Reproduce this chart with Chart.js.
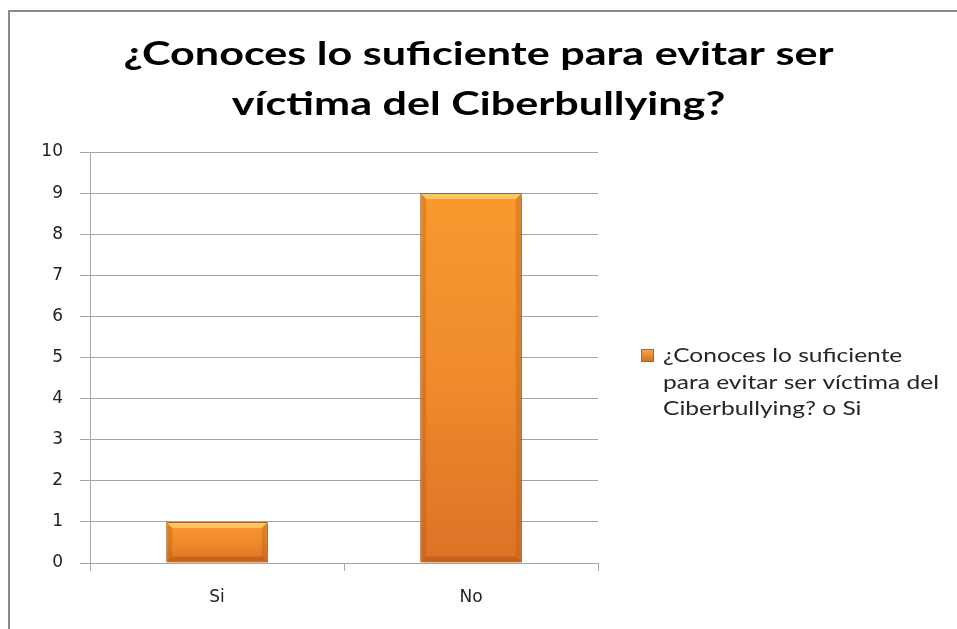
<!DOCTYPE html>
<html lang="es">
<head>
  <meta charset="UTF-8">
  <title>¿Conoces lo suficiente para evitar ser víctima del Ciberbullying?</title>
  <script src="https://cdn.jsdelivr.net/npm/chart.js"></script>
  <style>
    body { margin: 0; background: #fff; }
    #marco {
      position: absolute; left: 8px; top: 10px; width: 960px; height: 630px;
      border-left: 2px solid #8a8a8a; border-top: 2px solid #8a8a8a;
    }
    #grafico { position: absolute; left: 0; top: 0; }
  </style>
</head>
<body>
  <div id="marco"></div>
  <canvas id="grafico" width="957" height="629"></canvas>

  <script>
    // datos
    const categorias = ['Si', 'No'];
    const valores = [1, 9];
    const nombreSerie = '¿Conoces lo suficiente para evitar ser víctima del Ciberbullying? o Si';
    const lineasLeyenda = ['¿Conoces lo suficiente', 'para evitar ser víctima del', 'Ciberbullying? o Si'];
    const lineasTitulo = ['¿Conoces lo suficiente para evitar ser', 'víctima del Ciberbullying?'];
    const ejeYMax = 10;

    const gris = '#a6a6a6';
    const fuenteEje = { family: '"DejaVu Sans", Verdana, sans-serif', size: 17 };

    // degradado naranja por barra (de arriba a abajo)
    function rellenoBarra(c) {
      const chart = c.chart;
      if (!chart.chartArea || c.dataIndex === undefined) return '#f79646';
      const y = chart.scales.y;
      const top = y.getPixelForValue(c.raw);
      const bottom = y.getPixelForValue(0);
      const g = chart.ctx.createLinearGradient(0, top, 0, bottom);
      g.addColorStop(0, '#f9992f');
      g.addColorStop(0.5, '#ef8b2c');
      g.addColorStop(1, '#dc7226');
      return g;
    }

    // sombra suave y biselado de las barras
    const bisel = {
      id: 'bisel',
      beforeDatasetsDraw(chart) {
        const ctx = chart.ctx;
        ctx.save();
        ctx.shadowColor = 'rgba(0,0,0,0.35)';
        ctx.shadowBlur = 4;
        ctx.shadowOffsetX = 2;
        ctx.shadowOffsetY = 2;
      },
      afterDatasetsDraw(chart) {
        const ctx = chart.ctx;
        ctx.restore();
        ctx.save();
        chart.getDatasetMeta(0).data.forEach(b => {
          const l = b.x - b.width / 2, r = b.x + b.width / 2, t = b.y, bt = b.base, e = 6;
          ctx.fillStyle = 'rgba(255,215,110,0.75)';
          ctx.beginPath();
          ctx.moveTo(l + 1, t + 1); ctx.lineTo(r - 1, t + 1); ctx.lineTo(r - e, t + e); ctx.lineTo(l + e, t + e);
          ctx.closePath(); ctx.fill();
          ctx.fillStyle = 'rgba(170,80,10,0.28)';
          ctx.beginPath();
          ctx.moveTo(l + 1, t + 1); ctx.lineTo(l + e, t + e); ctx.lineTo(l + e, bt - e); ctx.lineTo(l + 1, bt - 1);
          ctx.closePath(); ctx.fill();
          ctx.beginPath();
          ctx.moveTo(r - 1, t + 1); ctx.lineTo(r - e, t + e); ctx.lineTo(r - e, bt - e); ctx.lineTo(r - 1, bt - 1);
          ctx.closePath(); ctx.fill();
          ctx.fillStyle = 'rgba(150,65,5,0.35)';
          ctx.beginPath();
          ctx.moveTo(l + 1, bt - 1); ctx.lineTo(l + e, bt - e); ctx.lineTo(r - e, bt - e); ctx.lineTo(r - 1, bt - 1);
          ctx.closePath(); ctx.fill();
        });
        ctx.restore();
      }
    };

    // texto estirado a lo ancho (el original está ensanchado)
    function textoAncho(ctx, t, x, y, ancho, alinear) {
      const w = ctx.measureText(t).width;
      ctx.save();
      ctx.translate(x, y);
      ctx.scale(ancho / w, 1);
      ctx.textAlign = alinear;
      ctx.fillText(t, 0, 0);
      ctx.restore();
    }

    // título centrado en todo el lienzo y leyenda a la derecha
    const textos = {
      id: 'textos',
      afterDraw(chart) {
        const ctx = chart.ctx;
        ctx.save();
        ctx.fillStyle = '#000';
        ctx.textBaseline = 'alphabetic';
        ctx.font = 'bold 32px Lato, "Liberation Sans", sans-serif';
        const sx = 710 / ctx.measureText(lineasTitulo[0]).width;
        lineasTitulo.forEach((t, i) => {
          textoAncho(ctx, t, chart.width / 2, 65 + i * 50, ctx.measureText(t).width * sx, 'center');
        });

        // leyenda
        const x = 641, y = 355;
        const g = ctx.createLinearGradient(0, y - 6, 0, y + 7);
        g.addColorStop(0, '#fbab45');
        g.addColorStop(1, '#d56d22');
        ctx.fillStyle = g;
        ctx.fillRect(x, y - 6, 13, 13);
        ctx.strokeStyle = '#b9621a';
        ctx.lineWidth = 1;
        ctx.strokeRect(x + 0.5, y - 5.5, 12, 12);
        ctx.fillStyle = '#262626';
        ctx.font = '20px Lato, "Liberation Sans", sans-serif';
        const sl = 276 / ctx.measureText(lineasLeyenda[1]).width;
        lineasLeyenda.forEach((t, i) => {
          textoAncho(ctx, t, 663, 362 + i * 26.5, ctx.measureText(t).width * sl, 'left');
        });
        ctx.restore();
      }
    };

    new Chart(document.getElementById('grafico'), {
      type: 'bar',
      data: {
        labels: categorias,
        datasets: [{
          label: nombreSerie,
          data: valores,
          backgroundColor: rellenoBarra,
          borderColor: '#b9621a',
          borderWidth: 1,
          barPercentage: 0.8,
          categoryPercentage: 0.5
        }]
      },
      options: {
        responsive: false,
        devicePixelRatio: 1,
        animation: false,
        layout: { padding: { left: 0, right: 359, top: 152, bottom: 0 } },
        plugins: {
          legend: { display: false },
          tooltip: { enabled: false },
          title: { display: false }
        },
        scales: {
          x: {
            grid: { drawOnChartArea: false, drawTicks: true, tickLength: 8, color: gris, offset: true },
            border: { color: gris, width: 1 },
            ticks: { color: '#222', padding: 16, font: fuenteEje },
            afterFit(s) { s.height = 66; }
          },
          y: {
            min: 0,
            max: ejeYMax,
            grid: { color: gris, tickLength: 10 },
            border: { color: gris, width: 1 },
            ticks: { stepSize: 1, color: '#222', padding: 17, font: fuenteEje },
            afterFit(s) { s.width = 90; }
          }
        }
      },
      plugins: [bisel, textos]
    });
  </script>
</body>
</html>
